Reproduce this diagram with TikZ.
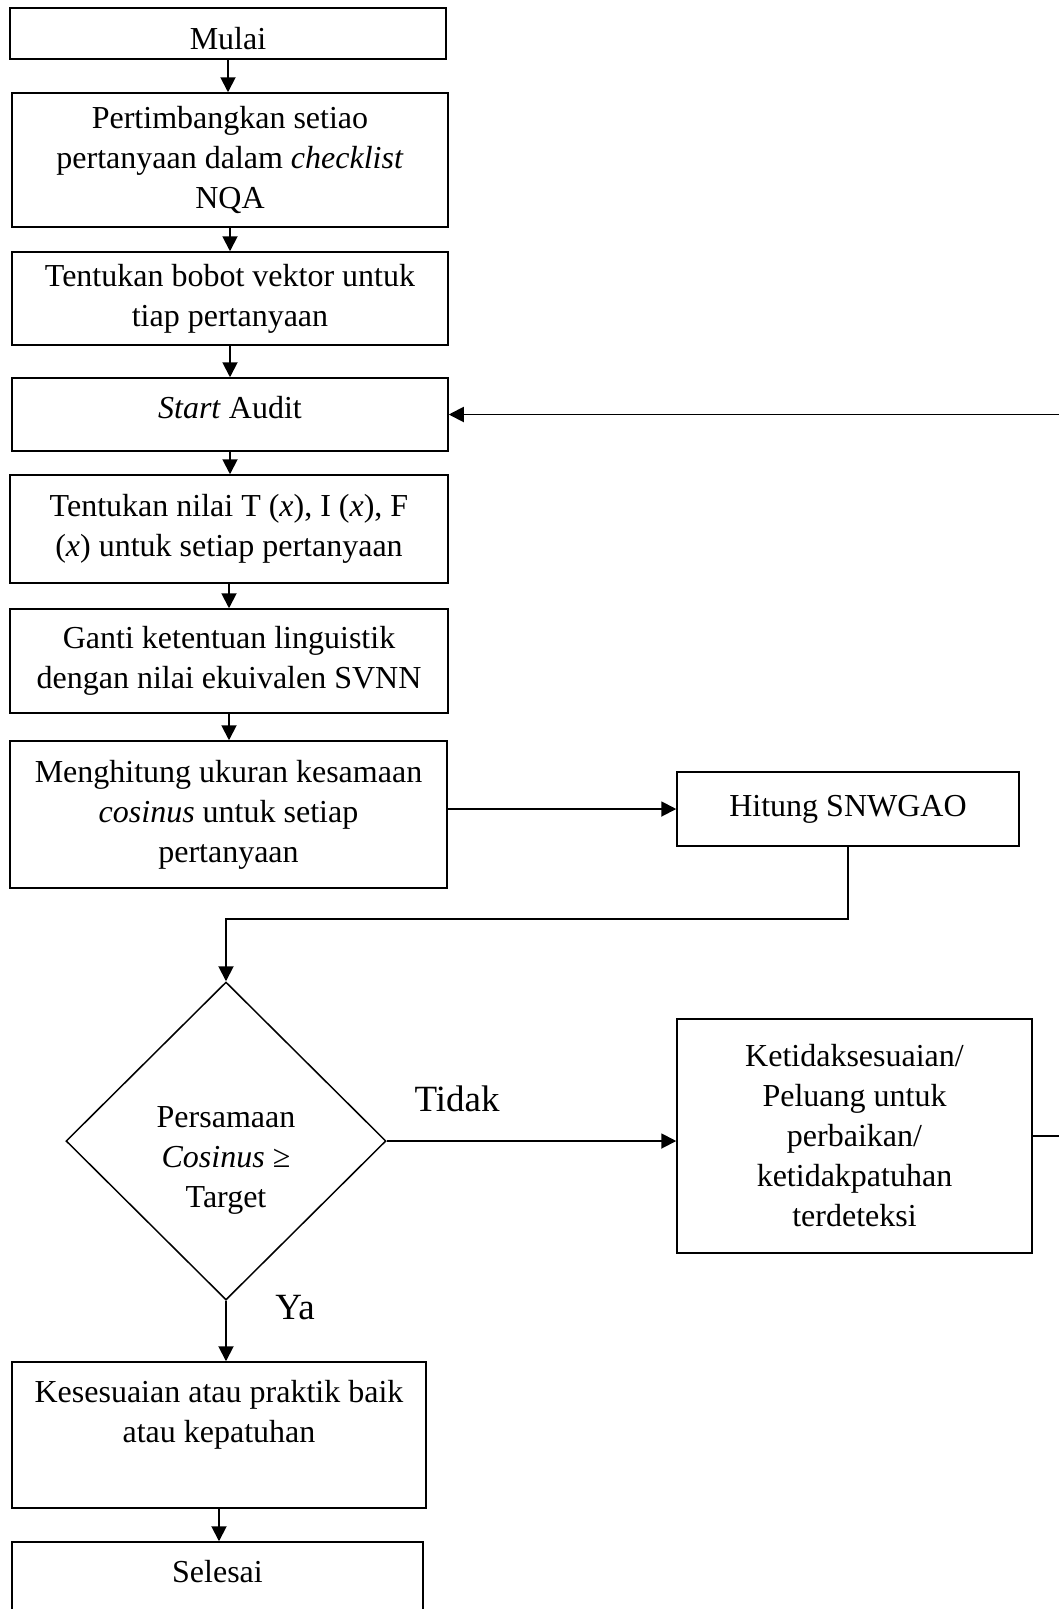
\documentclass[tikz,border=0pt]{standalone}
\usepackage{fontspec}
\setmainfont{Liberation Serif}
\usepackage{tikz}
\usetikzlibrary{positioning,arrows.meta,shapes.geometric}

\tikzset{
  kotak/.style={draw,line width=1.5pt,align=center,inner sep=0pt},
  teks/.style={align=center,inner sep=0pt},
  panah/.style={line width=1.9pt,-{Triangle[length=15pt,width=15pt]}},
  garis/.style={line width=1.9pt}
}

\begin{document}
\begin{tikzpicture}[x=1pt,y=1pt,font=\fontsize{32}{40}\selectfont]
\useasboundingbox (0,0) rectangle (1058,-1609);

\node[kotak,minimum width=436pt,minimum height=51pt] (mulai) at (228,-33.5) {};
\node[teks] (mulaitxt) at (228,-39) {Mulai};
\node[kotak,minimum width=436pt,minimum height=134pt] (pert) at (230,-160)
  {Pertimbangkan setiao\\pertanyaan dalam \textit{checklist}\\NQA};
\node[kotak,minimum width=436pt,minimum height=93pt] (bobot) at (230,-298.5)
  {Tentukan bobot vektor untuk\\tiap pertanyaan};
\node[kotak,minimum width=436pt,minimum height=73pt] (start) at (230,-414.5) {};
\node[teks] (starttxt) at (230,-408) {\textit{Start} Audit};
\node[kotak,minimum width=438pt,minimum height=108pt] (nilai) at (229,-529)
  {Tentukan nilai T (\textit{x}), I (\textit{x}), F\\(\textit{x}) untuk setiap pertanyaan};
\node[kotak,minimum width=438pt,minimum height=104pt] (ganti) at (229,-661)
  {Ganti ketentuan linguistik\\dengan nilai ekuivalen SVNN};
\node[kotak,minimum width=437pt,minimum height=147pt] (hitungcos) at (228.5,-814.5)
  {Menghitung ukuran kesamaan\\\textit{cosinus} untuk setiap\\pertanyaan};
\node[kotak,minimum width=342pt,minimum height=74pt] (snwgao) at (848,-809) {Hitung SNWGAO};

\node[draw,diamond,aspect=1,line width=1.5pt,minimum width=320pt,minimum height=318pt,inner sep=0pt] (cek) at (226,-1141) {};
\node[teks] (cektxt) at (226,-1160) {Persamaan\\\textit{Cosinus} ≥\\Target};

\node[kotak,minimum width=355pt,minimum height=234pt] (tidaksesuai) at (854.5,-1136)
  {Ketidaksesuaian/\\Peluang untuk\\perbaikan/\\ketidakpatuhan\\terdeteksi};

\node[kotak,minimum width=414pt,minimum height=146pt] (sesuai) at (219,-1435) {};
\node[teks] (sesuaitxt) at (219,-1415) {Kesesuaian atau praktik baik\\atau kepatuhan};
\node[kotak,minimum width=411pt,minimum height=100pt] (selesai) at (217.5,-1592) {};
\node[teks] (selesaitxt) at (217.5,-1572) {Selesai};

\node[font=\fontsize{37}{44}\selectfont] (tidak) at (457,-1099) {Tidak};
\node[font=\fontsize{37}{44}\selectfont] (ya) at (295,-1308) {Ya};

\coordinate (belok) at (226,-919);
\coordinate (balik) at (1075,-417);

\draw[panah] (mulai.south) -- (mulai.south |- pert.north);
\draw[panah] (pert.south) -- (bobot.north);
\draw[panah] (bobot.south) -- (start.north);
\draw[panah] (start.south) -- (start.south |- nilai.north);
\draw[panah] (nilai.south) -- (ganti.north);
\draw[panah] (ganti.south) -- (hitungcos.north -| ganti.south);
\draw[panah] (snwgao.west -| hitungcos.east) -- (snwgao.west);
\draw[panah] (snwgao.south) |- (belok) -- (cek.north);
\draw[panah] (cek.east) -- (cek.east -| tidaksesuai.west);
\draw[panah] (tidaksesuai.east) -| (balik |- start.east) -- (start.east);
\draw[panah] (cek.south) -- (cek.south |- sesuai.north);
\draw[panah] (sesuai.south) -- (sesuai.south |- selesai.north);
\end{tikzpicture}
\end{document}
